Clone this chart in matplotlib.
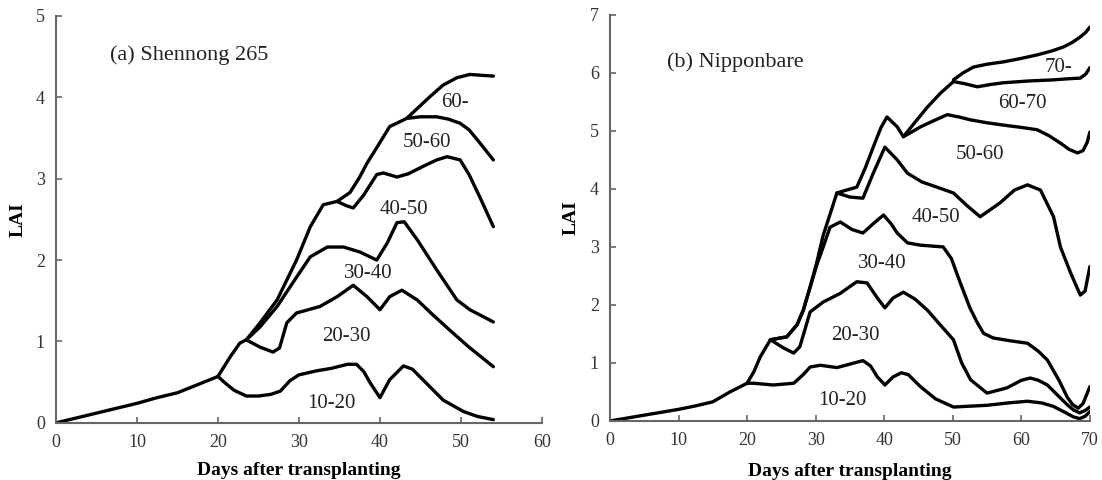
#LAI by canopy layer for two rice cultivars
import numpy as np
import matplotlib.pyplot as plt

plt.rcParams['font.family'] = ['Liberation Serif', 'DejaVu Serif']

#(a) Shennong 265 - cumulative LAI, upper boundary of each layer
a_base_x = [0, 2.5, 5, 7.5, 10, 12.5, 15, 17.5, 20]
a_base_y = [0, 0.06, 0.12, 0.18, 0.24, 0.31, 0.37, 0.47, 0.57]

a_1020_x = [20, 21, 22, 23.5, 25, 26.5, 27.7, 28.9, 30, 32.2, 34, 36, 37.1, 38, 38.8, 40, 41.2, 42.9, 44, 45, 47.8, 50.3, 52, 54]
a_1020_y = [0.57, 0.48, 0.4, 0.33, 0.33, 0.35, 0.39, 0.52, 0.59, 0.64, 0.67, 0.72, 0.72, 0.63, 0.49, 0.31, 0.53, 0.70, 0.66, 0.56, 0.28, 0.14, 0.08, 0.04]

a_2030_x = [20, 21.5, 22.7, 23.5, 25.2, 26.8, 27.6, 28.5, 29.7, 32.6, 34.7, 36.7, 38.4, 40, 41.2, 42.7, 44.6, 46.5, 48.6, 51, 54]
a_2030_y = [0.57, 0.81, 0.98, 1.02, 0.93, 0.87, 0.92, 1.23, 1.35, 1.43, 1.55, 1.69, 1.55, 1.39, 1.55, 1.63, 1.51, 1.33, 1.14, 0.93, 0.69]

a_3040_x = [23.5, 25.2, 27.3, 29.7, 31.4, 33.5, 35.5, 37.5, 39.6, 40.9, 42.1, 43, 44.6, 47, 49.5, 51.1, 54]
a_3040_y = [1.02, 1.18, 1.43, 1.79, 2.04, 2.16, 2.16, 2.10, 2.0, 2.21, 2.46, 2.47, 2.25, 1.88, 1.51, 1.39, 1.24]

a_4050_x = [23.5, 25.2, 27.3, 29.7, 31.4, 33, 34.7, 35.8, 36.7, 38, 39.6, 40.4, 42.1, 43.5, 45.3, 47, 48.3, 49.9, 51, 52.3, 54]
a_4050_y = [1.02, 1.23, 1.51, 2.0, 2.41, 2.68, 2.72, 2.67, 2.64, 2.8, 3.05, 3.07, 3.02, 3.06, 3.15, 3.23, 3.27, 3.23, 3.05, 2.78, 2.41]

a_5060_x = [34.7, 36.3, 37.5, 38.4, 39.6, 41.2, 43.3, 45, 47, 48.5, 49.9, 51, 52, 54]
a_5060_y = [2.72, 2.83, 3.02, 3.19, 3.38, 3.64, 3.74, 3.76, 3.76, 3.73, 3.68, 3.6, 3.48, 3.23]

a_60_x = [43.3, 44.8, 46.2, 47.8, 49.5, 51.1, 52.5, 54]
a_60_y = [3.74, 3.88, 4.01, 4.15, 4.24, 4.28, 4.27, 4.26]

a_labels = ['60-', '50-60', '40-50', '30-40', '20-30', '10-20']
a_lab_x = [49.3, 45.8, 43.0, 38.5, 35.9, 34.0]
a_lab_y = [3.93, 3.44, 2.62, 1.84, 1.06, 0.24]

#(b) Nipponbare
b_base_x = [0, 2.5, 5, 7.5, 10, 12.5, 15, 17.5, 20]
b_base_y = [0, 0.05, 0.1, 0.15, 0.2, 0.26, 0.33, 0.5, 0.65]

b_1020_x = [20, 21, 23.8, 26.8, 28.2, 29.2, 30.7, 33.1, 35, 36.9, 38, 39, 40.1, 41.3, 42.5, 43.5, 45.3, 47.5, 50.1, 55, 58, 60.9, 63, 64.7, 66.5, 67.6, 68.5, 69.3, 70]
b_1020_y = [0.65, 0.65, 0.62, 0.65, 0.8, 0.93, 0.96, 0.92, 0.98, 1.04, 0.95, 0.76, 0.62, 0.76, 0.83, 0.8, 0.59, 0.38, 0.24, 0.27, 0.31, 0.34, 0.31, 0.25, 0.14, 0.07, 0.04, 0.08, 0.16]

b_2030_x = [20, 21, 21.9, 23.4, 25.3, 26.8, 27.7, 29.2, 31.1, 33.6, 36, 37.5, 39, 40.1, 41.3, 42.8, 44.5, 46.3, 48, 50.1, 51.3, 52.6, 55, 57.9, 60, 61.3, 62.5, 63.8, 65.5, 66.7, 67.6, 68.5, 69.3, 70]
b_2030_y = [0.65, 0.85, 1.1, 1.40, 1.26, 1.17, 1.28, 1.88, 2.05, 2.2, 2.4, 2.38, 2.12, 1.95, 2.12, 2.22, 2.1, 1.91, 1.68, 1.40, 1.0, 0.71, 0.48, 0.57, 0.7, 0.74, 0.7, 0.62, 0.42, 0.28, 0.19, 0.14, 0.18, 0.24]

b_3040_x = [23.4, 25.8, 27.3, 28.2, 29.2, 30.2, 31.1, 32.1, 33.6, 35.3, 36.9, 38.4, 39.9, 41, 41.9, 43.4, 45.3, 48.6, 49.8, 51.1, 52.5, 53.6, 54.5, 55.9, 58.5, 60.9, 62.5, 63.8, 65.5, 66.7, 67.5, 68.3, 69, 70]
b_3040_y = [1.40, 1.45, 1.66, 1.91, 2.31, 2.7, 3.0, 3.34, 3.43, 3.3, 3.24, 3.4, 3.55, 3.4, 3.24, 3.07, 3.03, 3.0, 2.8, 2.38, 1.95, 1.69, 1.51, 1.43, 1.38, 1.34, 1.2, 1.05, 0.7, 0.41, 0.28, 0.22, 0.3, 0.59]

b_4050_x = [23.4, 25.8, 27.3, 28.2, 29.2, 30.2, 31.1, 32.2, 33.1, 35, 36.9, 38.4, 40.1, 41.9, 43.4, 45.5, 47.7, 50.1, 52, 54, 56.9, 59, 60.9, 62.8, 64.7, 65.7, 67.2, 68.6, 69.3, 70]
b_4050_y = [1.40, 1.45, 1.66, 1.91, 2.31, 2.75, 3.2, 3.6, 3.93, 3.86, 3.84, 4.27, 4.72, 4.5, 4.27, 4.12, 4.03, 3.93, 3.72, 3.52, 3.76, 3.98, 4.07, 3.98, 3.52, 3.0, 2.55, 2.17, 2.24, 2.66]

b_5060_x = [33.1, 34.5, 36, 37.2, 38.4, 39.5, 40.4, 41.9, 42.8, 44, 45.3, 47.3, 49.2, 50.9, 52.6, 55, 57.4, 60, 62.3, 64, 65.7, 67, 68.2, 69, 69.6, 70]
b_5060_y = [3.93, 3.98, 4.03, 4.35, 4.72, 5.05, 5.24, 5.07, 4.9, 4.98, 5.07, 5.18, 5.28, 5.24, 5.19, 5.14, 5.1, 5.06, 5.02, 4.92, 4.79, 4.68, 4.62, 4.66, 4.8, 4.98]

b_6070_x = [42.8, 44.5, 46.3, 48.2, 50.1, 51.5, 53.6, 55.5, 57.4, 61, 64.7, 67, 68.6, 69.4, 70]
b_6070_y = [4.9, 5.15, 5.41, 5.65, 5.85, 5.82, 5.76, 5.8, 5.83, 5.86, 5.88, 5.9, 5.91, 5.98, 6.09]

b_70_x = [50.1, 51.5, 53, 55, 57.4, 60, 62.3, 64.5, 66.2, 67.5, 68.6, 69.4, 70]
b_70_y = [5.88, 6.0, 6.1, 6.15, 6.19, 6.25, 6.31, 6.38, 6.45, 6.53, 6.62, 6.7, 6.79]

b_labels = ['70-', '60-70', '50-60', '40-50', '30-40', '20-30', '10-20']
b_lab_x = [65.4, 60.1, 53.9, 47.5, 39.7, 35.8, 33.9]
b_lab_y = [6.1, 5.48, 4.59, 3.5, 2.72, 1.48, 0.36]


fig = plt.figure(figsize=(11.02,4.8),dpi=100)
ax1 = fig.add_axes([0.0508,0.119,0.441,0.848])
ax2 = fig.add_axes([0.5535,0.123,0.4355,0.846])

lw = 2.4
for xx,yy in [(a_base_x,a_base_y),(a_1020_x,a_1020_y),(a_2030_x,a_2030_y),(a_3040_x,a_3040_y),
              (a_4050_x,a_4050_y),(a_5060_x,a_5060_y),(a_60_x,a_60_y)]:
    ax1.plot(xx,yy,c='k',lw=lw,solid_joinstyle='round',solid_capstyle='round')
for xx,yy in [(b_base_x,b_base_y),(b_1020_x,b_1020_y),(b_2030_x,b_2030_y),(b_3040_x,b_3040_y),
              (b_4050_x,b_4050_y),(b_5060_x,b_5060_y),(b_6070_x,b_6070_y),(b_70_x,b_70_y)]:
    ax2.plot(xx,yy,c='k',lw=lw,solid_joinstyle='round',solid_capstyle='round')

for i in range(len(a_labels)):
    ax1.text(a_lab_x[i],a_lab_y[i],a_labels[i],fontsize=15,ha='center',va='center',color='#222222')
for i in range(len(b_labels)):
    ax2.text(b_lab_x[i],b_lab_y[i],b_labels[i],fontsize=15,ha='center',va='center',color='#222222')

ax1.text(6.7,4.52,'(a) Shennong 265',fontsize=16,ha='left',va='center',color='#222222')
ax2.text(8.3,6.19,'(b) Nipponbare',fontsize=16,ha='left',va='center',color='#222222')

ax1.set_xlim(0,60)
ax1.set_ylim(0,5)
ax1.set_xticks(np.arange(0,61,10))
ax1.set_yticks(np.arange(0,6,1))
ax2.set_xlim(0,70)
ax2.set_ylim(0,7)
ax2.set_xticks(np.arange(0,71,10))
ax2.set_yticks(np.arange(0,8,1))

for ax in [ax1,ax2]:
    ax.spines['top'].set_visible(False)
    ax.spines['right'].set_visible(False)
    for s in ['left','bottom']:
        ax.spines[s].set_color('#666666')
        ax.spines[s].set_linewidth(1.5)
    ax.tick_params(direction='in',length=4,width=1.2,color='#666666',labelsize=13,labelcolor='#333333',pad=8)
    ax.set_xlabel('Days after transplanting',fontsize=14,fontweight='bold')
    ax.set_ylabel('LAI',fontsize=14,fontweight='bold')

ax1.xaxis.set_label_coords(0.5,-0.097)
ax1.yaxis.set_label_coords(-0.06,0.5)
ax2.xaxis.set_label_coords(0.5,-0.103)
ax2.yaxis.set_label_coords(-0.0625,0.5)

fig.savefig('out.png',dpi=100)
